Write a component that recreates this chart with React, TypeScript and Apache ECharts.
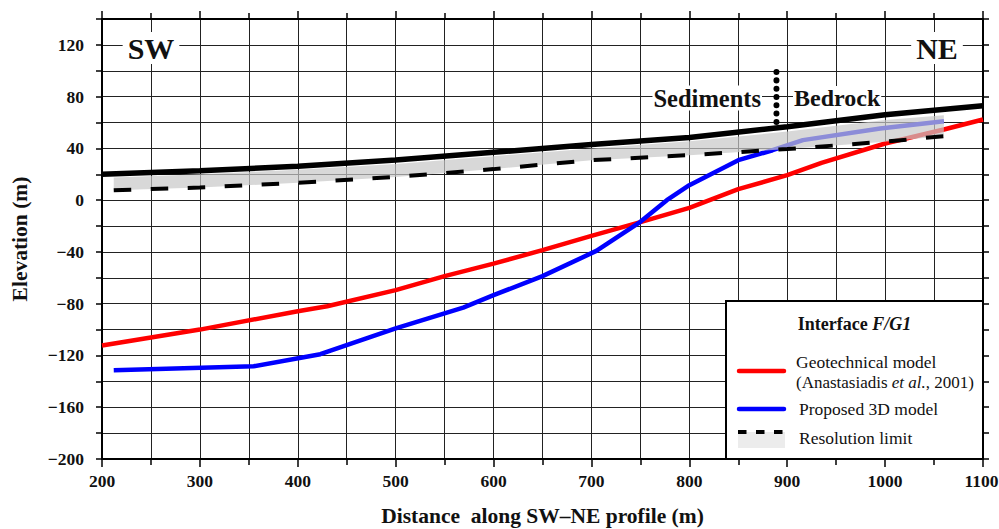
import React, { useEffect, useRef } from "react";
import * as echarts from "echarts";

// ---- data ----
const topoX = [200, 300, 400, 500, 600, 700, 800, 900, 1000, 1100];
const topoY = [20, 22.7, 26.3, 31, 37, 43, 48.5, 56.8, 66, 73];

const resX = [212, 300, 400, 500, 600, 700, 800, 900, 1000, 1060];
const resY = [7.7, 9.8, 13.4, 18, 24, 30.9, 34.8, 39.5, 45.2, 49.5];
const bandTopY = [17.5, 20, 23.5, 28, 34, 40, 45.5, 53, 62, 65.7];

const redX = [200, 300, 400, 430, 500, 550, 600, 650, 700, 750, 800, 850, 900, 935, 1000, 1060, 1100];
const redY = [-112.3, -100, -85.8, -82, -69.5, -58.7, -49, -38.6, -27.6, -17, -6, 8.5, 19.3, 28.8, 43.8, 54.6, 62.3];

const blueX = [212, 355, 423, 500, 569, 600, 650, 705, 750, 777, 800, 850, 885, 916, 995, 1060];
const blueY = [-131.4, -128.3, -119, -99, -83, -73.4, -58.7, -39.2, -16.7, 0, 11.6, 30.9, 38.6, 46.4, 55.4, 61];

const boundaryX = [889, 889];
const boundaryY = [99, 57];

const xTicks = { min: 200, max: 1100, step: 100 };
const yTicks = { min: -200, max: 140, step: 20, labelStep: 40 };

const FONT = '"Liberation Serif", "Times New Roman", serif';

const pairs = (xs: number[], ys: number[]) => xs.map((x, i) => [x, ys[i]]);

export default function App() {
  const ref = useRef<HTMLDivElement>(null);
  useEffect(() => {
    if (!ref.current) return;
    const chart = echarts.init(ref.current, null, { renderer: "svg" });
    const axisLine = { show: true, onZero: false, lineStyle: { color: "#000", width: 2 } };
    const labelFont = { fontFamily: FONT, fontWeight: "bold", fontSize: 17.5, color: "#111" };
    const fmtY = (v: number) =>
      (v - yTicks.min) % yTicks.labelStep === 0 ? (v < 0 ? "\u2212" + Math.abs(v) : String(v)) : "";
    const fmtX = (v: number) => (v === xTicks.max ? "{e|" + String(v) + "}" : String(v));

    const option: any = {
      animation: false,
      textStyle: { fontFamily: FONT },
      grid: { left: 102, right: 16, top: 19, bottom: 70, containLabel: false, outerBoundsMode: "none" },
      xAxis: [
        {
          type: "value",
          min: xTicks.min,
          max: xTicks.max,
          interval: xTicks.step,
          position: "bottom",
          name: "Distance  along SW\u2013NE profile (m)",
          nameLocation: "middle",
          nameGap: 46,
          nameTextStyle: { fontFamily: FONT, fontWeight: "bold", fontSize: 21.5, color: "#111" },
          axisLine,
          axisTick: { show: true, inside: false, length: 8, lineStyle: { color: "#000", width: 1.5 } },
          minorTick: { show: true, splitNumber: 2, length: 6, lineStyle: { color: "#000", width: 1.5 } },
          splitLine: { show: true, lineStyle: { color: "#222", width: 1 } },
          minorSplitLine: { show: true, lineStyle: { color: "#222", width: 1 } },
          axisLabel: {
            ...labelFont,
            margin: 13,
            formatter: fmtX,
            rich: { e: { ...labelFont, padding: [0, 3, 0, 0] } },
          },
        },
        {
          type: "value",
          min: xTicks.min,
          max: xTicks.max,
          interval: xTicks.step,
          position: "top",
          axisLine,
          axisTick: { show: true, inside: false, length: 8, lineStyle: { color: "#000", width: 1.5 } },
          minorTick: { show: true, splitNumber: 2, length: 6, lineStyle: { color: "#000", width: 1.5 } },
          splitLine: { show: false },
          axisLabel: { show: false },
        },
      ],
      yAxis: [
        {
          type: "value",
          min: yTicks.min,
          max: yTicks.max,
          interval: yTicks.step,
          position: "left",
          name: "Elevation (m)",
          nameLocation: "middle",
          nameGap: 71,
          nameTextStyle: { fontFamily: FONT, fontWeight: "bold", fontSize: 21.5, color: "#111" },
          axisLine,
          axisTick: { show: true, inside: false, length: 6, lineStyle: { color: "#000", width: 1.5 } },
          splitLine: { show: true, lineStyle: { color: "#222", width: 1 } },
          axisLabel: { ...labelFont, margin: 18, formatter: fmtY },
        },
        {
          type: "value",
          min: yTicks.min,
          max: yTicks.max,
          interval: yTicks.step,
          position: "right",
          axisLine,
          axisTick: { show: true, inside: false, length: 6, lineStyle: { color: "#000", width: 1.5 } },
          splitLine: { show: false },
          axisLabel: { show: false },
        },
      ],
      series: [
        {
          type: "line",
          name: "Geotechnical model",
          data: pairs(redX, redY),
          symbol: "none",
          silent: true,
          z: 2,
          lineStyle: { color: "#ff0000", width: 4.5 },
        },
        {
          type: "line",
          name: "Proposed 3D model",
          data: pairs(blueX, blueY),
          symbol: "none",
          silent: true,
          z: 3,
          lineStyle: { color: "#0000ff", width: 4.5 },
        },
        {
          type: "custom",
          name: "Resolution band",
          coordinateSystem: "cartesian2d",
          silent: true,
          z: 4,
          data: [[resX[0], resY[0]]],
          renderItem: (params: any, api: any) => {
            if (params.dataIndex !== 0) return null;
            const pts: number[][] = [];
            resX.forEach((x, i) => pts.push(api.coord([x, bandTopY[i]])));
            for (let i = resX.length - 1; i >= 0; i--) pts.push(api.coord([resX[i], resY[i]]));
            return {
              type: "polygon",
              shape: { points: pts },
              style: { fill: "rgba(200,200,200,0.7)", stroke: "none" },
            };
          },
        },
        {
          type: "line",
          name: "Resolution limit",
          data: pairs(resX, resY),
          symbol: "none",
          silent: true,
          z: 5,
          lineStyle: { color: "#000", width: 4, type: [17.5, 19.5] },
        },
        {
          type: "line",
          name: "Topography",
          data: pairs(topoX, topoY),
          symbol: "none",
          silent: true,
          z: 6,
          lineStyle: { color: "#000", width: 5.5 },
        },
        {
          type: "line",
          name: "Boundary",
          data: pairs(boundaryX, boundaryY),
          symbol: "none",
          silent: true,
          z: 6,
          lineStyle: { color: "#000", width: 6, type: [0.01, 8.3], cap: "round" },
        },
      ],
      graphic: [
        {
          type: "text", x: 151, y: 48, z: 100,
          style: { text: "SW", font: `bold 30px ${FONT}`, fill: "#111", align: "center", verticalAlign: "middle", backgroundColor: "#fff", padding: [1, 5] },
        },
        {
          type: "text", x: 937, y: 48, z: 100,
          style: { text: "NE", font: `bold 30px ${FONT}`, fill: "#111", align: "center", verticalAlign: "middle", backgroundColor: "#fff", padding: [1, 5] },
        },
        {
          type: "text", x: 762, y: 98, z: 100,
          style: { text: "Sediments", font: `bold 24.5px ${FONT}`, fill: "#111", align: "right", verticalAlign: "middle", backgroundColor: "#fff", padding: [0, 1] },
        },
        {
          type: "text", x: 793, y: 98, z: 100,
          style: { text: "Bedrock", font: `bold 24px ${FONT}`, fill: "#111", align: "left", verticalAlign: "middle", backgroundColor: "#fff", padding: [0, 1] },
        },
        // legend box
        {
          type: "rect", z: 100,
          shape: { x: 726, y: 301, width: 257, height: 158 },
          style: { fill: "#fff", stroke: "#000", lineWidth: 2 },
        },
        {
          type: "text", x: 854.5, y: 324, z: 101,
          style: {
            text: "{a|Interface }{b|F/G1}",
            align: "center", verticalAlign: "middle", fill: "#111",
            rich: {
              a: { fontFamily: FONT, fontWeight: "bold", fontSize: 18, fill: "#111" },
              b: { fontFamily: FONT, fontWeight: "bold", fontStyle: "italic", fontSize: 18, fill: "#111" },
            },
          },
        },
        {
          type: "line", z: 101,
          shape: { x1: 739, y1: 371, x2: 784, y2: 371 },
          style: { stroke: "#ff0000", lineWidth: 4.5, lineCap: "round" },
        },
        {
          type: "text", x: 796, y: 362, z: 101,
          style: { text: "Geotechnical model", font: `17.5px ${FONT}`, fill: "#111", align: "left", verticalAlign: "middle" },
        },
        {
          type: "text", x: 796, y: 382, z: 101,
          style: {
            text: "{a|(Anastasiadis }{b|et al.}{a|, 2001)}",
            align: "left", verticalAlign: "middle", fill: "#111",
            rich: {
              a: { fontFamily: FONT, fontSize: 17, fill: "#111" },
              b: { fontFamily: FONT, fontSize: 17, fontStyle: "italic", fill: "#111" },
            },
          },
        },
        {
          type: "line", z: 101,
          shape: { x1: 739, y1: 409, x2: 784, y2: 409 },
          style: { stroke: "#0000ff", lineWidth: 4.5, lineCap: "round" },
        },
        {
          type: "text", x: 799, y: 409, z: 101,
          style: { text: "Proposed 3D model", font: `17.5px ${FONT}`, fill: "#111", align: "left", verticalAlign: "middle" },
        },
        {
          type: "rect", z: 101,
          shape: { x: 738, y: 432, width: 47, height: 16 },
          style: { fill: "#ececec" },
        },
        {
          type: "line", z: 102,
          shape: { x1: 738, y1: 432, x2: 785, y2: 432 },
          style: { stroke: "#000", lineWidth: 4, lineDash: [8.5, 9.5] },
        },
        {
          type: "text", x: 799, y: 438, z: 101,
          style: { text: "Resolution limit", font: `17.5px ${FONT}`, fill: "#111", align: "left", verticalAlign: "middle" },
        },
      ],
    };
    chart.setOption(option);
    return () => chart.dispose();
  }, []);
  return (
    <div
      ref={ref}
      style={{ position: "fixed", left: 0, top: 0, width: 999, height: 529, background: "#fff" }}
    />
  );
}
